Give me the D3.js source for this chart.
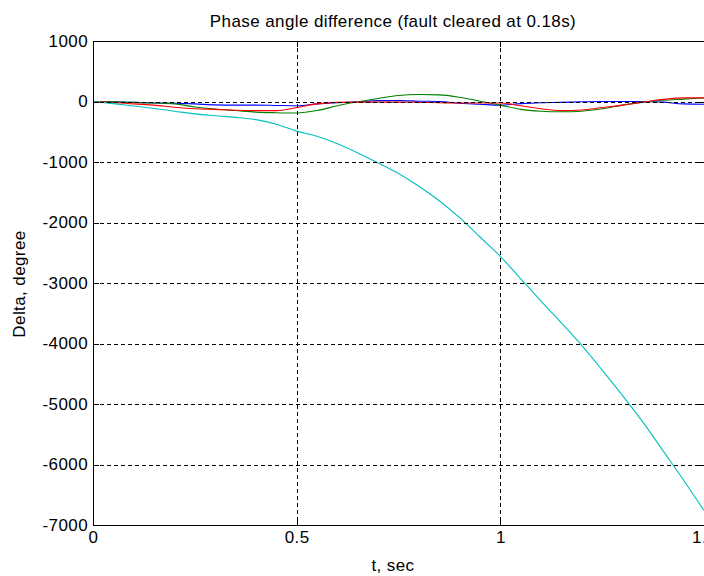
<!DOCTYPE html>
<html>
<head>
<meta charset="utf-8">
<script src="https://cdn.jsdelivr.net/npm/d3@7"></script>
<style>
    body { margin: 0; background: #fff; }
    svg { font-family: "Liberation Sans", Arial, sans-serif; }
</style>
</head>
<body>
<div id="chart-area"></div>
<script>
// Data (delta in degrees)
let time = [0, 0.05, 0.1, 0.15, 0.2, 0.25, 0.3, 0.35, 0.4, 0.45, 0.5, 0.55, 0.6, 0.65, 0.7, 0.75,
    0.8, 0.85, 0.9, 0.95, 1.0, 1.05, 1.1, 1.15, 1.2, 1.25, 1.3, 1.35, 1.4, 1.45, 1.5];
let blueDelta = [0, -5, -15, -25, -30, -40, -55, -60, -60, -65, -70, -40, -20, -5, 15, 15,
    5, 0, -30, -45, -60, -35, -20, -15, -5, 0, 0, 0, -10, -40, -45];
let greenDelta = [0, -5, -15, -25, -40, -90, -125, -150, -175, -185, -190, -150, -70, -5, 50, 100,
    115, 110, 70, 5, -60, -130, -160, -170, -160, -120, -60, -10, 20, 40, 60];
let redDelta = [0, -15, -40, -60, -95, -120, -130, -145, -150, -150, -100, -40, -15, -10, -10, -10,
    -15, -20, -25, -25, -25, -70, -120, -150, -140, -100, -60, -10, 35, 60, 60];
let cyanDelta = [0, -35, -75, -115, -160, -205, -235, -262, -300, -375, -490, -575, -700, -850, -1015, -1190,
    -1400, -1640, -1920, -2240, -2560, -2930, -3300, -3660, -4030, -4440, -4860, -5300, -5780, -6260, -6760];

let seriesColors = ["#0000ff", "#008000", "#ff0000", "#00bfbf"];
let xTicks = [0, 0.5, 1, 1.5];
let yTicks = [1000, 0, -1000, -2000, -3000, -4000, -5000, -6000, -7000];

// SVG drawing area
let margin = {top: 41, right: 0, bottom: 51, left: 93};

let width = 704 - margin.left - margin.right,
    height = 576 - margin.top - margin.bottom;

let svgRoot = d3.select("#chart-area").append("svg")
    .attr("width", 704)
    .attr("height", 576)
    .attr("letter-spacing", "0.4px");

let svg = svgRoot.append("g")
    .attr("transform", "translate(" + margin.left + "," + margin.top + ")");

// Scales
let x = d3.scaleLinear()
    .domain([0, 1.5])
    .range([0, width]);

let y = d3.scaleLinear()
    .domain([-7000, 1000])
    .range([height, 0]);

svg.append("clipPath")
    .attr("id", "plot-clip")
  .append("rect")
    .attr("width", width)
    .attr("height", height);

// Lines
let series = [blueDelta, greenDelta, redDelta, cyanDelta].map(vals => vals.map((v, i) => ({t: time[i], v: v})));

let line = d3.line()
    .x(d => x(d.t))
    .y(d => y(d.v))
    .curve(d3.curveMonotoneX);

svg.append("g")
    .attr("clip-path", "url(#plot-clip)")
    .selectAll(".series")
    .data(series)
    .enter()
    .append("path")
    .attr("class", "series")
    .attr("fill", "none")
    .attr("stroke", (d, i) => seriesColors[i])
    .attr("stroke-width", 1.1)
    .attr("d", line);

// Grid (dashed, drawn over the lines like the original)
let grid = svg.append("g")
    .attr("stroke", "#000")
    .attr("stroke-width", 1)
    .attr("stroke-dasharray", "4,3")
    .attr("shape-rendering", "crispEdges");

grid.selectAll(".vgrid")
    .data(xTicks.filter(d => d > 0 && d < 1.5))
    .enter()
    .append("line")
    .attr("x1", d => Math.round(x(d)) + 0.5)
    .attr("x2", d => Math.round(x(d)) + 0.5)
    .attr("y1", 0)
    .attr("y2", height);

grid.selectAll(".hgrid")
    .data(yTicks.filter(d => d < 1000 && d > -7000))
    .enter()
    .append("line")
    .attr("y1", d => Math.round(y(d)) + 0.5)
    .attr("y2", d => Math.round(y(d)) + 0.5)
    .attr("x1", 0)
    .attr("x2", width);

// Axes
let fmt = d => String(d);

svg.append("g")
    .attr("class", "x-axis")
    .attr("transform", `translate(0,${height})`)
    .call(d3.axisBottom(x).tickValues(xTicks).tickFormat(fmt).tickSizeInner(-6).tickSizeOuter(0).tickPadding(6));

svg.append("g")
    .attr("class", "y-axis")
    .call(d3.axisLeft(y).tickValues(yTicks).tickFormat(fmt).tickSizeInner(-6).tickSizeOuter(0).tickPadding(5));

svg.append("g")
    .call(d3.axisTop(x).tickValues(xTicks).tickFormat("").tickSizeInner(-6).tickSizeOuter(0));

svg.append("g")
    .attr("transform", `translate(${width},0)`)
    .call(d3.axisRight(y).tickValues(yTicks).tickFormat("").tickSizeInner(-6).tickSizeOuter(0));

svg.selectAll(".domain, .tick line")
    .attr("stroke", "#000")
    .attr("shape-rendering", "crispEdges");

svg.selectAll(".tick text")
    .attr("fill", "#000")
    .attr("font-size", 17)
    .attr("font-family", "\"Liberation Sans\", Arial, sans-serif");

// Labels
svgRoot.append("text")
    .attr("x", 393)
    .attr("y", 27)
    .attr("text-anchor", "middle")
    .attr("font-size", 17)
    .text("Phase angle difference (fault cleared at 0.18s)");

svgRoot.append("text")
    .attr("x", 393)
    .attr("y", 571)
    .attr("text-anchor", "middle")
    .attr("font-size", 17)
    .text("t, sec");

svgRoot.append("text")
    .attr("transform", "translate(25,284) rotate(-90)")
    .attr("text-anchor", "middle")
    .attr("font-size", 17)
    .text("Delta, degree");
</script>
</body>
</html>
